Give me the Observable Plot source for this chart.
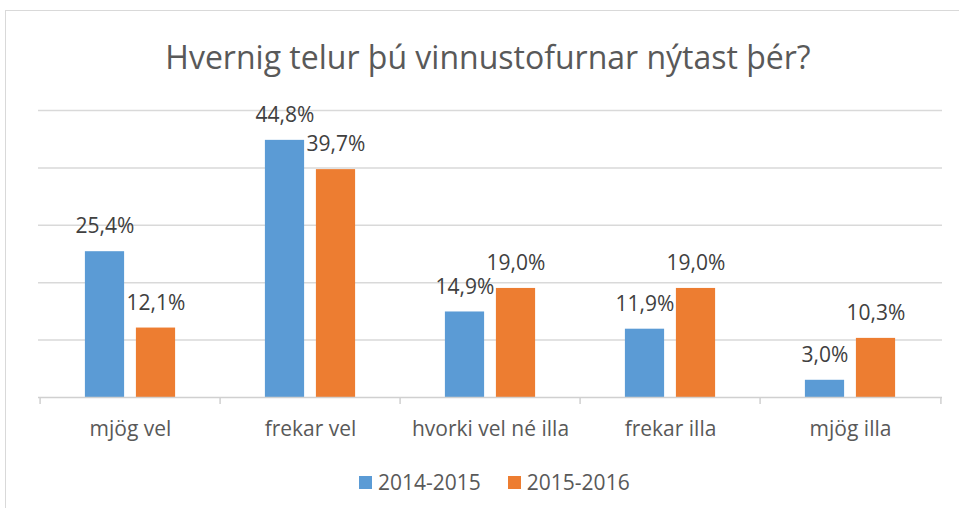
<!DOCTYPE html>
<html>
<head>
<meta charset="utf-8">
<script src="https://cdn.jsdelivr.net/npm/d3@7"></script>
<script src="https://cdn.jsdelivr.net/npm/@observablehq/plot@0.6"></script>
<style>
  html, body { margin: 0; padding: 0; background: #fff; width: 959px; height: 508px; overflow: hidden; }
  body { font-family: "Open Sans", "DejaVu Sans", sans-serif; color: #595959; position: relative; }
  #frame { position: absolute; left: 5px; top: 10px; width: 1000px; height: 600px; border: 1px solid #d9d9d9; box-sizing: border-box; }
  #title { position: absolute; left: 0; top: 35px; width: 976px; text-align: center; font-size: 32px; line-height: 44px; color: #595959; }
  #chart { position: absolute; left: 0; top: 95px; }
  #legend { position: absolute; left: 359px; top: 468px; display: flex; align-items: center; font-size: 21px; line-height: 28px; color: #595959; }
  .item { display: flex; align-items: center; }
  .item + .item { margin-left: 27px; }
  .sw { width: 13px; height: 13px; margin-right: 6px; }
</style>
</head>
<body>
<div id="frame"></div>
<div id="title"></div>
<div id="chart"></div>
<div id="legend"></div>
<script>
const titleText = "Hvernig telur þú vinnustofurnar nýtast þér?";
const categories = ["mjög vel", "frekar vel", "hvorki vel né illa", "frekar illa", "mjög illa"];
const series = ["2014-2015", "2015-2016"];
const values2014 = [25.4, 44.8, 14.9, 11.9, 3.0];
const values2015 = [12.1, 39.7, 19.0, 19.0, 10.3];
const yTicks = [0, 10, 20, 30, 40, 50];
const colors = ["#5b9bd5", "#ed7d31"];

document.getElementById("title").textContent = titleText;

const W = 959, H = 355, ML = 38, MR = 17, MT = 15, MB = 53;
const band = (W - ML - MR) / categories.length;
const barW = 40, gap = 11;
const outer = (band - 2 * barW - gap) / 2;

const d1 = categories.map((c, i) => ({category: c, series: series[0], value: values2014[i]}));
const d2 = categories.map((c, i) => ({category: c, series: series[1], value: values2015[i]}));
const fmt = v => v.toFixed(1).replace(".", ",") + "%";
const off = barW / 2 + gap / 2;

const plot = Plot.plot({
  width: W, height: H,
  marginLeft: ML, marginRight: MR, marginTop: MT, marginBottom: MB,
  style: {fontFamily: '"Open Sans", "DejaVu Sans", sans-serif', color: "#595959", background: "transparent"},
  x: {domain: categories, padding: 0, label: null},
  y: {domain: [0, 50], axis: null},
  marks: [
    Plot.ruleY(yTicks.slice(1), {stroke: "#d9d9d9", strokeWidth: 1.5}),
    Plot.barY(d1, {x: "category", y: "value", fill: colors[0], insetLeft: outer, insetRight: outer + barW + gap}),
    Plot.barY(d2, {x: "category", y: "value", fill: colors[1], insetLeft: outer + barW + gap, insetRight: outer}),
    Plot.ruleY([0], {stroke: "#d0d0d0", strokeWidth: 1.5}),
    Plot.axisX({tickSize: 7, fill: "none", stroke: "#d0d0d0", strokeWidth: 1.5, dx: -band / 2}),
    Plot.axisX([categories[categories.length - 1]], {tickSize: 7, fill: "none", stroke: "#d0d0d0", strokeWidth: 1.5, dx: band / 2}),
    Plot.axisX({tickSize: 0, tickPadding: 24, fontSize: 21, fill: "#595959"}),
    Plot.text(d1, {x: "category", y: "value", text: d => fmt(d.value), dx: -off, dy: -25, fontSize: 21, fill: "#404040"}),
    Plot.text(d2, {x: "category", y: "value", text: d => fmt(d.value), dx: off, dy: -25, fontSize: 21, fill: "#404040"})
  ]
});
document.getElementById("chart").appendChild(plot);

const legend = d3.select("#legend");
series.forEach((s, i) => {
  const it = legend.append("div").attr("class", "item");
  it.append("div").attr("class", "sw").style("background", colors[i]);
  it.append("span").text(s);
});
</script>
</body>
</html>
